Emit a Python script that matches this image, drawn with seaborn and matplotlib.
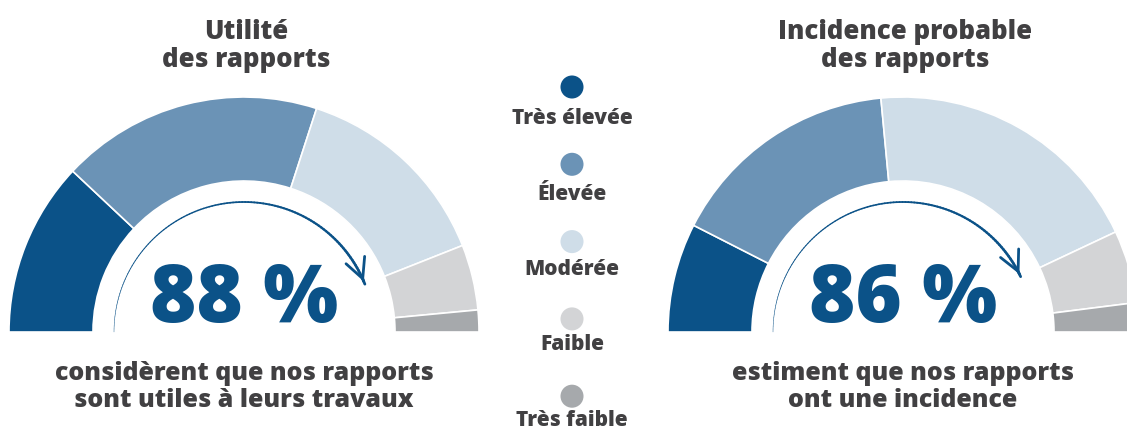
import numpy as np
import pandas as pd
import matplotlib
matplotlib.use("Agg")
import matplotlib.pyplot as plt
import seaborn as sns
from matplotlib.collections import LineCollection

# Data
categories = ["Très élevée", "Élevée", "Modérée", "Faible", "Très faible"]
palette = ["#0b5288", "#6b93b6", "#cfdde8", "#d3d4d6", "#a6a9ac"]

utilite_values = [24, 36, 28, 9, 3]
incidence_values = [15, 32, 39, 10, 4]
utilite_pct = 88
incidence_pct = 86

titles = ["Utilité\ndes rapports", "Incidence probable\ndes rapports"]
captions = ["considèrent que nos rapports\nsont utiles à leurs travaux",
            "estiment que nos rapports\nont une incidence"]

# Style
sns.set_theme(style="white")
plt.rcParams['font.family'] = ['Open Sans', 'DejaVu Sans']
text_color = "#414042"
blue = "#0b5288"
weight = "heavy"

W, H = 1127, 432
fig = plt.figure(figsize=(W / 100, H / 100), dpi=100)
ax = fig.add_axes([0, 0, 1, 1])

R_OUT, R_IN = 235, 151
CY = H - 332
ARC_R = 130


def draw_gauge(cx, values, pct, title, caption):
    wedges, _ = ax.pie(values + [sum(values)], startangle=180, counterclock=False,
                       center=(cx, CY), radius=R_OUT,
                       colors=palette + ["white"],
                       wedgeprops=dict(width=R_OUT - R_IN, edgecolor="white", linewidth=1.2))
    wedges[-1].set_visible(False)

    # tapered arrow arc following the cumulative share
    theta = np.radians(np.linspace(180, 180 * (1 - pct / 100), 120))
    xs = cx + ARC_R * np.cos(theta)
    ys = CY + ARC_R * np.sin(theta)
    pts = np.column_stack([xs, ys]).reshape(-1, 1, 2)
    segs = np.concatenate([pts[:-1], pts[1:]], axis=1)
    lc = LineCollection(segs, colors=blue, linewidths=np.linspace(0.3, 2.0, len(segs)),
                        capstyle="round")
    ax.add_collection(lc)
    t_end = theta[-1]
    tangent = np.array([np.sin(t_end), -np.cos(t_end)])
    end = np.array([xs[-1], ys[-1]])
    ax.annotate("", xy=end, xytext=end - 6 * tangent,
                arrowprops=dict(arrowstyle="->", color=blue, lw=2, mutation_scale=36))

    ax.text(cx, CY + 10, f"{pct} %", ha="center", va="baseline", color=blue,
            fontsize=57, fontweight=weight)
    ax.text(cx + 2, H - 67, title, ha="center", va="baseline", color=text_color,
            fontsize=18.5, fontweight=weight, linespacing=1.08)
    ax.text(cx, H - 407, caption, ha="center", va="baseline", color=text_color,
            fontsize=18, fontweight=weight, linespacing=1.1)


draw_gauge(244, utilite_values, utilite_pct, titles[0], captions[0])
draw_gauge(903, incidence_values, incidence_pct, titles[1], captions[1])

# Legend in the middle
legend_df = pd.DataFrame({
    "x": [572] * len(categories),
    "y": [H - 87 - i * 77.3 for i in range(len(categories))],
    "cat": categories,
})
sns.scatterplot(data=legend_df, x="x", y="y", hue="cat", palette=palette, s=275,
                edgecolor="none", legend=False, ax=ax)
for i, cat in enumerate(categories):
    ax.text(572, H - 124 - i * 75.5, cat, ha="center", va="baseline", color=text_color,
            fontsize=15, fontweight=weight)

ax.set_xlim(0, W)
ax.set_ylim(0, H)
ax.set_aspect("equal")
ax.axis("off")

fig.savefig("out.png", dpi=100)
